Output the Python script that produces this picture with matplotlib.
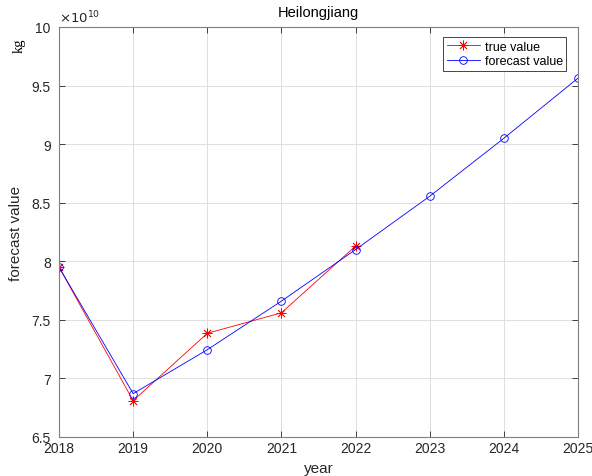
import matplotlib.pyplot as plt
from matplotlib.ticker import FuncFormatter

# values in units of 1e10 kg
years = [2018, 2019, 2020, 2021, 2022, 2023, 2024, 2025]
true_years = [2018, 2019, 2020, 2021, 2022]
true_value = [7.95, 6.81, 7.385, 7.56, 8.13]
forecast_value = [7.95, 6.87, 7.245, 7.66, 8.10, 8.555, 9.05, 9.563]
yticks = [6.5, 7, 7.5, 8, 8.5, 9, 9.5, 10]

plt.rcParams['font.family'] = ['Liberation Sans', 'DejaVu Sans']
axis_gray = '#262626'

fig = plt.figure(figsize=(5.92, 4.77), dpi=100)
ax = fig.add_axes([0.0997, 0.0818, 0.8766, 0.8595])

# asterisk marker: 8 arms, like '+' and 'x' drawn together
ax.plot(true_years, true_value, color='red', marker=(8, 2, 0), markersize=7,
        linewidth=0.6, markeredgewidth=0.6, label='true value')
ax.plot(years, forecast_value, color='blue', marker='o', markersize=5.5,
        markerfacecolor='none', linewidth=0.6, markeredgewidth=0.6,
        label='forecast value')

ax.set_xlim(2018, 2025)
ax.set_ylim(6.5, 10)
ax.set_xticks(years)
ax.set_yticks(yticks)
ax.yaxis.set_major_formatter(FuncFormatter(lambda v, p: f"{v:g}"))
ax.grid(True, color='#dedede', linewidth=0.7)
ax.set_axisbelow(True)

ax.tick_params(direction='in', length=4, width=0.6, top=True, right=True,
               labelsize=10, colors=axis_gray)
ax.tick_params(axis='x', pad=3)
ax.tick_params(axis='y', pad=6)
for s in ax.spines.values():
    s.set_color('#7f7f7f')
    s.set_linewidth(0.8)

ax.set_title('Heilongjiang', fontsize=10.5, color='black', pad=8)
ax.set_xlabel('year', fontsize=11, color=axis_gray, labelpad=4)
ax.set_ylabel('forecast value', fontsize=11, color=axis_gray, labelpad=6)

ax.text(0.0, 1.005, r'$\times10^{10}$', transform=ax.transAxes,
        fontsize=9.5, color=axis_gray, ha='left', va='bottom')
fig.text(0.033, 0.905, 'kg', rotation=90, fontsize=10.5,
         family='Liberation Serif', ha='center', va='center')

leg = ax.legend(loc='upper right', fontsize=9, fancybox=False,
                framealpha=1, edgecolor=axis_gray, handlelength=2.6,
                borderpad=0.3, labelspacing=0.2, handletextpad=0.4,
                borderaxespad=0.3, bbox_to_anchor=(0.985, 0.985))
leg.get_frame().set_linewidth(0.6)

fig.savefig('out.png', dpi=100)
